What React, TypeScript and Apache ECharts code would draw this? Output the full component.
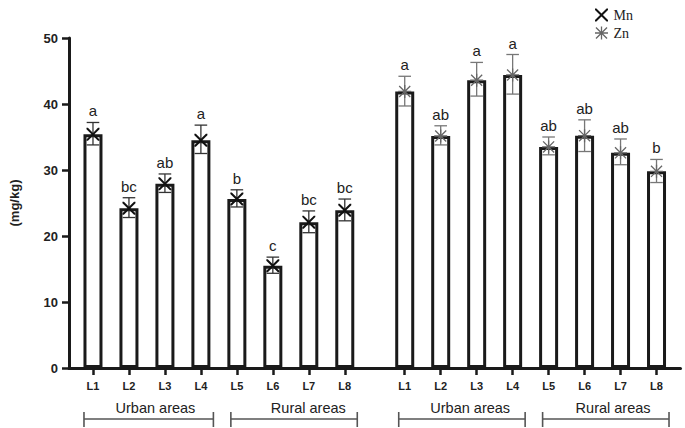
import React, { useEffect, useRef } from "react";
import * as echarts from "echarts";

// ---- data ----
const SITE_LABELS = ["L1", "L2", "L3", "L4", "L5", "L6", "L7", "L8"];
const GROUP_NAMES = ["Urban areas", "Rural areas"];

const MN_MEAN = [35.4, 24.2, 27.9, 34.5, 25.6, 15.5, 22.1, 23.9];
const MN_LOW = [33.8, 22.8, 26.6, 32.5, 24.4, 14.35, 20.5, 22.3];
const MN_HIGH = [37.2, 25.8, 29.4, 36.8, 27.0, 16.8, 23.8, 25.6];
const MN_LETTERS = ["a", "bc", "ab", "a", "b", "c", "bc", "bc"];

const ZN_MEAN = [41.9, 35.15, 43.6, 44.4, 33.5, 35.2, 32.6, 29.8];
const ZN_LOW = [39.7, 33.8, 41.2, 41.5, 32.3, 32.8, 30.8, 28.1];
const ZN_HIGH = [44.2, 36.7, 46.3, 47.5, 35.0, 37.6, 34.7, 31.6];
const ZN_LETTERS = ["a", "ab", "a", "a", "ab", "ab", "ab", "b"];

const Y_TICKS = [0, 10, 20, 30, 40, 50];

// ---- layout of the category slots (fine category grid) ----
const N_SLOTS = 52;
const MN_START = 2;
const ZN_START = 28;
const STEP = 3;
const GROUP_TEXT_SHIFT = [8.5, 17.5, 11.5, 10.5];

const X_PATH =
  "path://M0,0 L2.2,0 L10,7.8 L17.8,0 L20,0 L20,2.2 L12.2,10 L20,17.8 L20,20 L17.8,20 L10,12.2 L2.2,20 L0,20 L0,17.8 L7.8,10 L0,2.2 Z";
const STAR_PATH =
  "path://M9,0 L11,0 L11,20 L9,20 Z M0,9 L20,9 L20,11 L0,11 Z M2.2,0.8 L19.2,17.8 L17.8,19.2 L0.8,2.2 Z M17.8,0.8 L19.2,2.2 L2.2,19.2 L0.8,17.8 Z";

const FONT = "'Liberation Sans', Arial, sans-serif";

function slotKeys(): string[] {
  const keys: string[] = [];
  for (let k = 0; k < N_SLOTS; k++) {
    const mi = (k - MN_START) / STEP;
    const zi = (k - ZN_START) / STEP;
    if (Number.isInteger(mi) && mi >= 0 && mi < SITE_LABELS.length) keys.push("Mn|" + SITE_LABELS[mi]);
    else if (Number.isInteger(zi) && zi >= 0 && zi < SITE_LABELS.length) keys.push("Zn|" + SITE_LABELS[zi]);
    else keys.push("_" + k);
  }
  return keys;
}

export default function App() {
  const ref = useRef<HTMLDivElement>(null);

  useEffect(() => {
    if (!ref.current) return;
    const chart = echarts.init(ref.current, null, { renderer: "svg" });
    const keys = slotKeys();
    const mnIdx = SITE_LABELS.map((_, i) => MN_START + STEP * i);
    const znIdx = SITE_LABELS.map((_, i) => ZN_START + STEP * i);

    const barData = [
      ...mnIdx.map((x, i) => [x, MN_MEAN[i]]),
      ...znIdx.map((x, i) => [x, ZN_MEAN[i]]),
    ];

    const errSeries = (name: string, idx: number[], lo: number[], hi: number[], letters: string[], color: string) => ({
      type: "custom",
      name: name + "-err",
      clip: false,
      z: 5,
      silent: true,
      data: idx.map((x, i) => [x, lo[i], hi[i]]),
      encode: { x: 0, y: [1, 2] },
      renderItem: (params: any, api: any) => {
        const x = api.value(0);
        const pLo = api.coord([x, api.value(1)]);
        const pHi = api.coord([x, api.value(2)]);
        const cap = 6.3;
        const st = { stroke: color, lineWidth: 1.3 };
        return {
          type: "group",
          children: [
            { type: "line", shape: { x1: pLo[0], y1: pLo[1], x2: pHi[0], y2: pHi[1] }, style: st },
            { type: "line", shape: { x1: pLo[0] - cap, y1: pLo[1], x2: pLo[0] + cap, y2: pLo[1] }, style: st },
            { type: "line", shape: { x1: pHi[0] - cap, y1: pHi[1], x2: pHi[0] + cap, y2: pHi[1] }, style: st },
            {
              type: "text",
              x: pHi[0],
              y: pHi[1] - 4,
              style: {
                text: letters[params.dataIndex],
                fill: "#222",
                font: "15px " + FONT,
                align: "center",
                verticalAlign: "bottom",
              },
            },
          ],
        };
      },
    });

    const groupData: number[][] = [];
    [mnIdx, znIdx].forEach((idx) => {
      groupData.push([idx[0], 0, idx[3]]);
      groupData.push([idx[4], 0, idx[7]]);
    });

    const option: any = {
      animation: false,
      backgroundColor: "#fff",
      textStyle: { fontFamily: FONT },
      grid: { left: 68.5, right: 4.5, top: 38, bottom: 60, containLabel: false },
      legend: {
        orient: "vertical",
        left: 590,
        top: 3,
        itemWidth: 14,
        itemHeight: 13,
        itemGap: 4,
        data: ["Mn", "Zn"],
        textStyle: { fontFamily: "'Liberation Serif', 'Times New Roman', serif", fontSize: 14, color: "#222" },
      },
      xAxis: {
        type: "category",
        data: keys,
        boundaryGap: false,
        axisLine: { show: true, lineStyle: { color: "#1a1a1a", width: 3 } },
        axisTick: {
          show: true,
          length: 7,
          interval: (i: number, v: string) => v.indexOf("|") > 0,
          lineStyle: { color: "#1a1a1a", width: 2.5 },
        },
        axisLabel: {
          interval: (i: number, v: string) => v.indexOf("|") > 0,
          formatter: (v: string) => (v.indexOf("|") > 0 ? v.split("|")[1] : ""),
          fontWeight: "bold",
          fontSize: 11,
          color: "#222",
          margin: 12,
          fontFamily: FONT,
        },
        splitLine: { show: false },
      },
      yAxis: {
        type: "value",
        min: Y_TICKS[0],
        max: Y_TICKS[Y_TICKS.length - 1],
        interval: Y_TICKS[1] - Y_TICKS[0],
        name: "(mg/kg)",
        nameLocation: "middle",
        nameGap: 48,
        nameRotate: 90,
        nameTextStyle: { fontWeight: "bold", fontSize: 13, color: "#222", fontFamily: FONT },
        axisLine: { show: true, lineStyle: { color: "#1a1a1a", width: 3 } },
        axisTick: { show: true, length: 7, lineStyle: { color: "#1a1a1a", width: 2.5 } },
        axisLabel: { fontWeight: "bold", fontSize: 13, color: "#222", margin: 11, fontFamily: FONT },
        splitLine: { show: false },
      },
      series: [
        {
          type: "bar",
          name: "bars",
          data: barData,
          barWidth: 19,
          z: 2,
          silent: true,
          itemStyle: { color: "#fff", borderColor: "#1a1a1a", borderWidth: 3 },
        },
        errSeries("Mn", mnIdx, MN_LOW, MN_HIGH, MN_LETTERS, "#333"),
        errSeries("Zn", znIdx, ZN_LOW, ZN_HIGH, ZN_LETTERS, "#777"),
        {
          type: "scatter",
          name: "Mn",
          data: mnIdx.map((x, i) => [x, MN_MEAN[i]]),
          symbol: X_PATH,
          symbolSize: 13,
          z: 6,
          silent: true,
          itemStyle: { color: "#111", opacity: 1 },
        },
        {
          type: "scatter",
          name: "Zn",
          data: znIdx.map((x, i) => [x, ZN_MEAN[i]]),
          symbol: STAR_PATH,
          symbolSize: 13,
          z: 6,
          silent: true,
          itemStyle: { color: "#666", opacity: 1 },
        },
        {
          type: "custom",
          name: "groups",
          clip: false,
          silent: true,
          data: groupData,
          encode: { x: 0, y: 1 },
          renderItem: (params: any, api: any) => {
            const p1 = api.coord([api.value(0), 0]);
            const p2 = api.coord([api.value(2), 0]);
            const left = p1[0] - (params.dataIndex === 0 ? 9 : 6);
            const right = p2[0] + 12.5;
            const y = p1[1] + 51;
            const st = { stroke: "#555", lineWidth: 1.6 };
            return {
              type: "group",
              children: [
                { type: "line", shape: { x1: left, y1: y, x2: right, y2: y }, style: st },
                { type: "line", shape: { x1: left, y1: y - 7, x2: left, y2: y + 8 }, style: st },
                { type: "line", shape: { x1: right, y1: y - 7, x2: right, y2: y + 8 }, style: st },
                {
                  type: "text",
                  x: (p1[0] + p2[0]) / 2 + GROUP_TEXT_SHIFT[params.dataIndex],
                  y: p1[1] + 40,
                  style: {
                    text: GROUP_NAMES[params.dataIndex % 2],
                    fill: "#222",
                    font: "14.5px " + FONT,
                    align: "center",
                    verticalAlign: "middle",
                  },
                },
              ],
            };
          },
        },
      ],
    };

    chart.setOption(option);
    return () => chart.dispose();
  }, []);

  return (
    <div
      ref={ref}
      style={{ position: "fixed", left: 0, top: 0, width: 685, height: 428, background: "#fff" }}
    />
  );
}
